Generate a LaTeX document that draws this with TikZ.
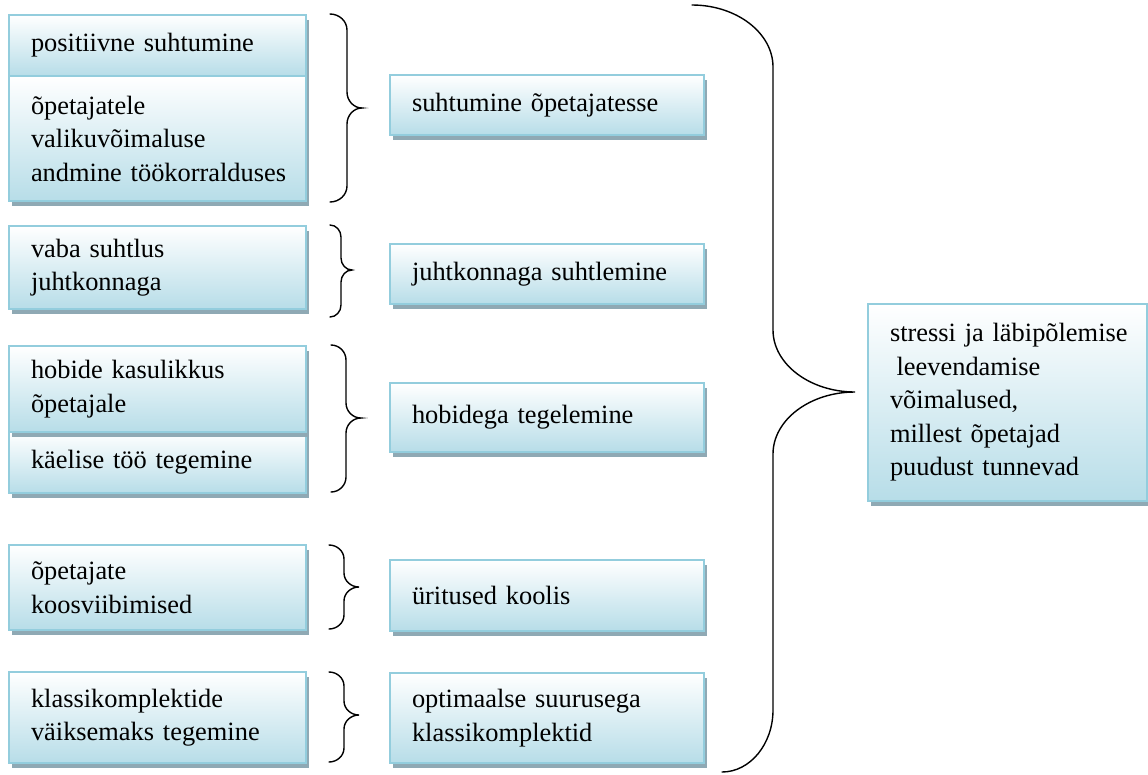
\documentclass[tikz,border=0pt]{standalone}
\usepackage{fontspec}
\setmainfont{Liberation Serif}
\usetikzlibrary{shadows}
\definecolor{boxline}{HTML}{93CDDD}
\definecolor{boxfill}{HTML}{B7DDE8}
\definecolor{boxshade}{HTML}{8FA9B4}
\tikzset{
  panel/.style={draw=boxline, line width=2pt, top color=white, bottom color=boxfill,
    anchor=north west, inner xsep=22pt, inner ysep=0pt, align=left,
    font=\fontsize{26.4}{33.5}\selectfont,
    drop shadow={shadow xshift=3pt, shadow yshift=-5pt, fill=boxshade, opacity=1}},
  leftpanel/.style={panel, text width=253pt},
  midpanel/.style={panel, text width=270pt},
  goalpanel/.style={panel, text width=235pt},
  curly/.style={line width=1.4pt, line cap=round, draw=black}
}
% curly brace: #1 top end x, #2 stem x, #3 tip x, #4 top y, #5 tip y, #6 bottom y, #7 corner size, #8 bottom end x
\newcommand\curlybrace[8]{%
  \draw[curly] (#1,#4) .. controls ({#1+0.55*(#2-#1)},#4) and (#2,{#4+0.45*#7}) .. (#2,{#4+#7})
    -- (#2,{#5-#7}) .. controls (#2,{#5-0.45*#7}) and ({#2+0.45*(#3-#2)},#5) .. (#3,#5)
    .. controls ({#2+0.45*(#3-#2)},#5) and (#2,{#5+0.45*#7}) .. (#2,{#5+#7})
    -- (#2,{#6-#7}) .. controls (#2,{#6-0.45*#7}) and ({#8+0.55*(#2-#8)},#6) .. (#8,#6);}
\begin{document}
\begin{tikzpicture}[x=1pt, y=-1pt]
\useasboundingbox (0,0) rectangle (1148,774);

% left column: causes
\node[leftpanel, minimum height=61pt] (l1a) at (8,14) {positiivne suhtumine};
\node[leftpanel, minimum height=125pt] (l1b) at (8,75) {õpetajatele\\valikuvõimaluse\\\mbox{andmine töökorralduses}};
\node[leftpanel, minimum height=83pt] (l2) at (8,225) {vaba suhtlus\\juhtkonnaga};
\node[leftpanel, minimum height=61pt] (l3b) at (8,431) {käelise töö tegemine};
\node[leftpanel, minimum height=86pt] (l3a) at (8,345) {hobide kasulikkus\\õpetajale};
\node[leftpanel, minimum height=85pt] (l4) at (8,544) {õpetajate\\koosviibimised};
\node[leftpanel, minimum height=91pt] (l5) at (8,671) {\mbox{klassikomplektide}\\\mbox{väiksemaks tegemine}};

% middle column: groups
\node[midpanel, minimum height=60pt] (m1) at (389,74) {suhtumine õpetajatesse};
\node[midpanel, minimum height=60pt] (m2) at (389,243) {juhtkonnaga suhtlemine};
\node[midpanel, minimum height=69pt] (m3) at (389,382) {hobidega tegelemine};
\node[midpanel, minimum height=71pt] (m4) at (389,559) {üritused koolis};
\node[midpanel, minimum height=90pt] (m5) at (389,672) {optimaalse suurusega\\klassikomplektid};

% right: summary
\node[goalpanel, minimum height=197pt] (goal) at (867,303) {\mbox{stressi ja läbipõlemise}\\\hspace*{6.6pt}leevendamise\\võimalused,\\millest õpetajad\\puudust tunnevad};

% braces
\curlybrace{330}{347}{362}{14}{108}{202}{16}{330}
\curlybrace{330}{341}{352}{225}{270}{317}{12}{330}
\curlybrace{331}{346}{361}{345}{418}{492}{15}{331}
\curlybrace{329}{344}{359}{545}{587}{629}{14}{329}
\curlybrace{329}{344}{359}{672}{715}{762}{14}{329}
\curlybrace{692}{773}{855}{5}{392}{772}{62}{722}
\end{tikzpicture}
\end{document}
